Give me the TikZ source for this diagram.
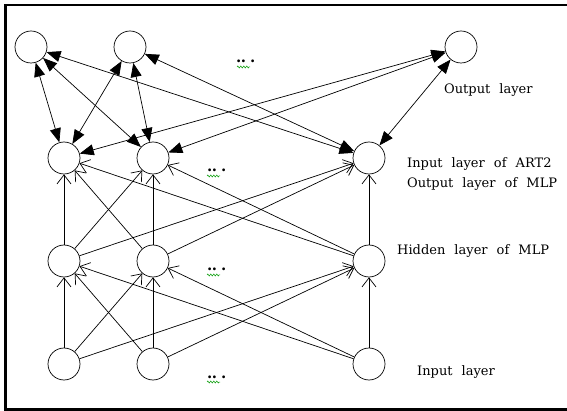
\documentclass[tikz,border=0pt]{standalone}
\usepackage{fontspec}
\setmainfont[WordSpace=2.2]{DejaVu Serif}
\usetikzlibrary{arrows.meta,decorations.pathmorphing}
\begin{document}
\begin{tikzpicture}[x=1pt,y=-1pt,
  neuron/.style={draw, circle, minimum size=32pt, inner sep=0pt, line width=0.7pt},
  artlink/.style={line width=0.7pt, {Triangle[length=14pt,width=11pt]}-{Triangle[length=14pt,width=11pt]}},
  mlplink/.style={line width=0.7pt, -{Straight Barb[length=9pt,width=14pt,line width=0.7pt]}},
  lbl/.style={font=\fontsize{13}{15}\selectfont, anchor=west, inner sep=0pt},
  dotstxt/.style={font=\fontsize{15}{15}\selectfont\bfseries, inner sep=0pt},
  squig/.style={draw=green!60!black, line width=0.5pt, decorate, decoration={zigzag, amplitude=1pt, segment length=3pt}}
]
\useasboundingbox (0,0) rectangle (567,411);
\draw[line width=2.4pt] (567,5.3) -- (5.3,5.3) -- (5.3,409.5) -- (567,409.5);

\node[neuron] (t1) at (31,47) {};
\node[neuron] (t2) at (130,47) {};
\node[neuron] (t3) at (461,47) {};
\node[neuron] (a1) at (64,158) {};
\node[neuron] (a2) at (153,158) {};
\node[neuron] (a3) at (369,158) {};
\node[neuron] (h1) at (64,261) {};
\node[neuron] (h2) at (153,261) {};
\node[neuron] (h3) at (369,261) {};
\node[neuron] (i1) at (64,364) {};
\node[neuron] (i2) at (153,364) {};
\node[neuron] (i3) at (369,364) {};

\foreach \s in {t1,t2,t3} \foreach \d in {a1,a2,a3} \draw[artlink] (\s) -- (\d);
\foreach \s in {i1,i2,i3} \foreach \d in {h1,h2,h3} \draw[mlplink] (\s) -- (\d);
\foreach \s in {h1,h2,h3} \foreach \d in {a1,a2,a3} \draw[mlplink] (\s) -- (\d);

\node[lbl] (lout) at (444,90) {Output layer};
\node[lbl] (lart) at (407,164) {Input layer of ART2};
\node[lbl] (lmlp) at (407,184) {Output layer of MLP};
\node[lbl] (lhid) at (397,251) {Hidden layer of MLP};
\node[lbl] (linp) at (417,372) {Input layer};

\node[dotstxt, anchor=base west] (d1) at (236,63) {.\kern-0.5pt.\kern4pt.};
\node[dotstxt, anchor=base west] (d2) at (207,172) {.\kern-0.5pt.\kern4pt.};
\node[dotstxt, anchor=base west] (d3) at (207,271) {.\kern-0.5pt.\kern4pt.};
\node[dotstxt, anchor=base west] (d4) at (207,378) {.\kern-0.5pt.\kern4pt.};
\draw[squig] (237,67) -- (250,67);
\draw[squig] (207,176) -- (220,176);
\draw[squig] (207,275) -- (220,275);
\draw[squig] (207,382) -- (220,382);
\end{tikzpicture}
\end{document}
